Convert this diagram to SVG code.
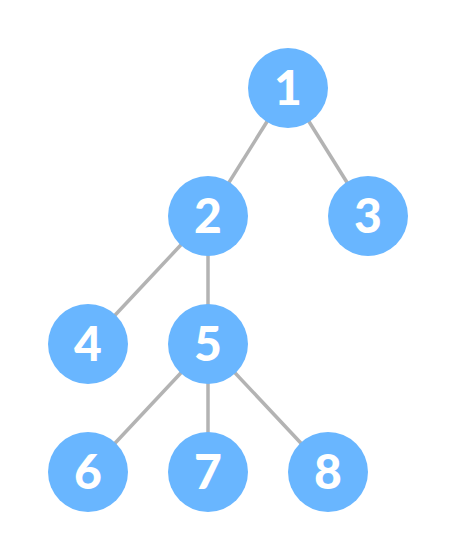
<svg xmlns="http://www.w3.org/2000/svg" width="456" height="560" viewBox="0 0 456 560">
<style>
.edge{stroke:#b3b3b3;stroke-width:3.5;fill:none}
.node circle{fill:#69b6ff}
.node text{fill:#ffffff;font-family:Lato,"Open Sans","Liberation Sans",sans-serif;font-weight:900;font-size:48px;text-anchor:middle}
</style>
<rect width="456" height="560" fill="#ffffff"/>
<g id="connectors">
<line class="edge" x1="288" y1="88" x2="208" y2="216"/>
<line class="edge" x1="288" y1="88" x2="368" y2="216"/>
<line class="edge" x1="208" y1="216" x2="88" y2="344"/>
<line class="edge" x1="208" y1="216" x2="208" y2="344"/>
<line class="edge" x1="208" y1="344" x2="88" y2="472"/>
<line class="edge" x1="208" y1="344" x2="208" y2="472"/>
<line class="edge" x1="208" y1="344" x2="328" y2="472"/>
</g>
<g id="n1" class="node"><circle cx="288" cy="88" r="40"/><text x="288" y="105">1</text></g>
<g id="n2" class="node"><circle cx="208" cy="216" r="40"/><text x="208" y="233">2</text></g>
<g id="n3" class="node"><circle cx="368" cy="216" r="40"/><text x="368" y="233">3</text></g>
<g id="n4" class="node"><circle cx="88" cy="344" r="40"/><text x="88" y="361">4</text></g>
<g id="n5" class="node"><circle cx="208" cy="344" r="40"/><text x="208" y="361">5</text></g>
<g id="n6" class="node"><circle cx="88" cy="472" r="40"/><text x="88" y="489">6</text></g>
<g id="n7" class="node"><circle cx="208" cy="472" r="40"/><text x="208" y="489">7</text></g>
<g id="n8" class="node"><circle cx="328" cy="472" r="40"/><text x="328" y="489">8</text></g>
</svg>
